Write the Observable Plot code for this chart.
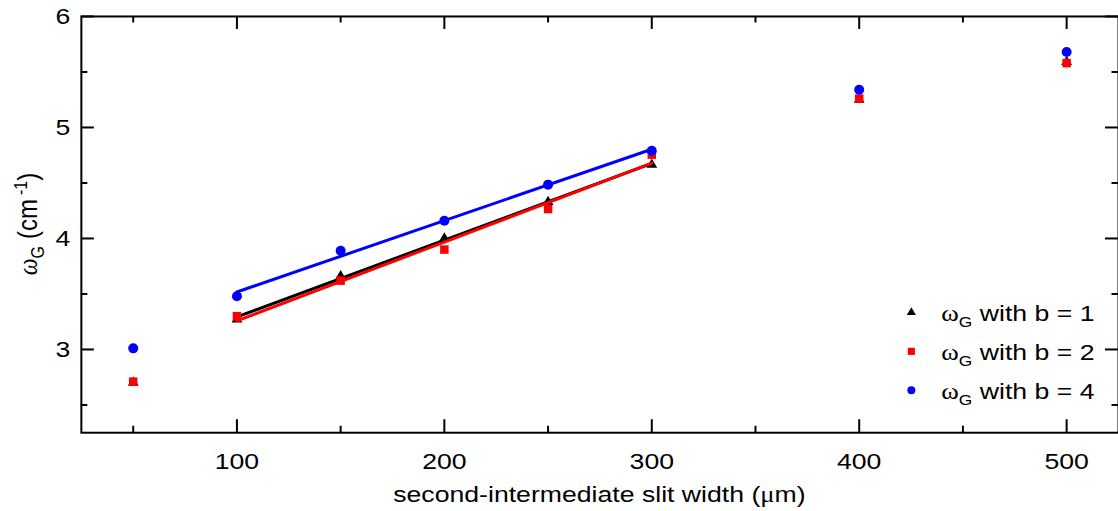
<!DOCTYPE html>
<html><head><meta charset="utf-8">
<script src="https://cdn.jsdelivr.net/npm/d3@7"></script>
<script src="https://cdn.jsdelivr.net/npm/@observablehq/plot@0.6"></script>
<style>
html,body{margin:0;padding:0;background:#fff;overflow:hidden;}
#chart svg{display:block;}
</style></head><body><div id="chart"></div>
<script>
// ---- data ----
const slitWidths = [50, 100, 150, 200, 250, 300, 400, 500];
const omegaB1 = [2.70, 3.27, 3.66, 4.00, 4.33, 4.665, 5.25, 5.59];
const omegaB2 = [2.71, 3.30, 3.62, 3.90, 4.265, 4.755, 5.26, 5.58];
const omegaB4 = [3.01, 3.48, 3.89, 4.16, 4.485, 4.79, 5.34, 5.68];
const seriesLabels = ["with b = 1", "with b = 2", "with b = 4"];
const seriesColors = ["#000000", "#ff0000", "#0000ff"];
const seriesSymbols = ["triangle", "square", "circle"];
const fitRange = [100, 300];
const xMajorTicks = [100, 200, 300, 400, 500];
const xMinorTicks = [50, 150, 250, 350, 450];
const yMajorTicks = [3, 4, 5, 6];
const yMinorTicks = [2.5, 3.5, 4.5, 5.5];
const xLabelText = "second-intermediate slit width (";
const xLabelUnit = "μ";
const xLabelEnd = "m)";

// ---- layout ----
const W = 1120, H = 511, ML = 81, MR = 0, MT = 16, MB = 78;
const innerW = W - ML - MR, innerH = H - MT - MB;
const majorLen = 13, minorLen = 6.5;
const stretch = 1.16;
const FS = 23;

const seriesValues = [omegaB1, omegaB2, omegaB4];
const series = seriesValues.map((vals, s) =>
  slitWidths.map((x, i) => ({x, y: vals[i], s})));
const symR = [4.0, 4.8, 5.0];

const marks = [];
const tk = {stroke: "black", strokeWidth: 2};
marks.push(Plot.tickX(xMajorTicks, {...tk, insetTop: innerH - majorLen}));
marks.push(Plot.tickX(xMinorTicks, {...tk, insetTop: innerH - minorLen}));
marks.push(Plot.tickX(xMajorTicks, {...tk, insetBottom: innerH - majorLen}));
marks.push(Plot.tickX(xMinorTicks, {...tk, insetBottom: innerH - minorLen}));
marks.push(Plot.tickY(yMajorTicks, {...tk, insetRight: innerW - majorLen}));
marks.push(Plot.tickY(yMinorTicks, {...tk, insetRight: innerW - minorLen}));
marks.push(Plot.tickY(yMajorTicks, {...tk, insetLeft: innerW - majorLen}));
marks.push(Plot.tickY(yMinorTicks, {...tk, insetLeft: innerW - minorLen}));
marks.push(Plot.axisX(xMajorTicks, {tickSize: 0, tickPadding: 20, fontSize: FS, label: null, tickFormat: d => String(d)}));
marks.push(Plot.axisY(yMajorTicks, {tickSize: 0, tickPadding: 11, fontSize: FS, label: null, tickFormat: d => String(d)}));

series.forEach((data, s) => {
  const fitData = data.filter(d => d.x >= fitRange[0] && d.x <= fitRange[1]);
  marks.push(Plot.linearRegressionY(fitData, {x: "x", y: "y", ci: 0, stroke: seriesColors[s], strokeWidth: 3}));
  marks.push(Plot.dot(data, {x: "x", y: "y", symbol: seriesSymbols[s], fill: seriesColors[s], stroke: "none", r: symR[s]}));
});
marks.push(Plot.frame({stroke: "black", strokeWidth: 2}));

const plot = Plot.plot({
  width: W, height: H,
  marginLeft: ML, marginRight: MR, marginTop: MT, marginBottom: MB,
  x: {domain: [25, 525]},
  y: {domain: [2.25, 6]},
  style: {fontFamily: "'Liberation Sans', Arial, sans-serif", fontSize: FS + "px", color: "black", background: "white"},
  marks
});
document.getElementById("chart").appendChild(plot);

// horizontal stretch of Plot's tick labels (the reference's glyphs are wide)
d3.select(plot).selectAll("text").each(function () {
  const tr = this.getAttribute("transform") || "";
  const xa = this.getAttribute("x");
  if (xa != null && /^[-\d.]+$/.test(xa)) this.setAttribute("x", (+xa) / stretch);
  this.setAttribute("transform", `${tr} scale(${stretch},1)`);
});

const svg = d3.select(plot);

// x-axis title
const xl = svg.append("text").attr("text-anchor", "middle")
  .attr("transform", `translate(${ML + innerW / 2},503) scale(${stretch},1)`)
  .attr("font-size", FS).attr("fill", "black");
xl.append("tspan").text(xLabelText);
xl.append("tspan").attr("font-family", "'Liberation Serif', serif").text(xLabelUnit);
xl.append("tspan").text(xLabelEnd);

// y-axis title (rotated)
const yl = svg.append("text").attr("text-anchor", "middle")
  .style("white-space", "pre")
  .attr("transform", `translate(37,${MT + innerH / 2}) rotate(-90) scale(1,${stretch})`)
  .attr("font-size", 24).attr("fill", "black");
yl.append("tspan").attr("font-family", "'Liberation Serif', serif").attr("font-style", "italic").text("ω");
yl.append("tspan").attr("font-size", 16).attr("dy", 6).text("G");
yl.append("tspan").attr("dy", -6).attr("dx", 7).text("(cm");
yl.append("tspan").attr("font-size", 16).attr("dy", -9).attr("dx", 4).text("-1");
yl.append("tspan").attr("dy", 9).text(")");

// legend
const legX = 913, legTextX = 943, legY0 = 313, legDy = 39;
seriesLabels.forEach((lab, s) => {
  const cy = legY0 + s * legDy;
  const sym = {triangle: d3.symbolTriangle, square: d3.symbolSquare, circle: d3.symbolCircle}[seriesSymbols[s]];
  const rr = [3.4, 4.0, 4.0][s];
  svg.append("path").attr("d", d3.symbol(sym, Math.PI * rr * rr)())
    .attr("transform", `translate(${legX},${cy})`).attr("fill", seriesColors[s]);
  const t = svg.append("text").attr("text-anchor", "start").style("white-space", "pre")
    .attr("transform", `translate(${legTextX},${cy + 8.5}) scale(${stretch},1)`)
    .attr("font-size", FS).attr("fill", "black");
  t.append("tspan").attr("font-family", "'Liberation Serif', serif").text("ω");
  t.append("tspan").attr("font-size", 15).attr("dy", 6).text("G");
  t.append("tspan").attr("dy", -6).text(" " + lab);
});
</script></body></html>
